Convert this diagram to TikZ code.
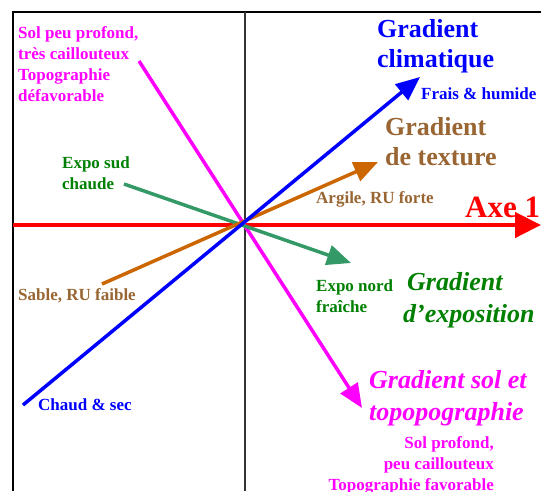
\documentclass[tikz,border=0pt]{standalone}
\usepackage{fontspec}
\setmainfont{Liberation Serif}
\usetikzlibrary{arrows.meta}
\definecolor{brun}{HTML}{996633}
\definecolor{orange}{HTML}{CC6600}
\definecolor{vertclair}{HTML}{339966}
\definecolor{vert}{HTML}{008000}
\definecolor{rose}{HTML}{FF00FF}
\definecolor{bleu}{HTML}{0000FF}
\definecolor{rouge}{HTML}{FF0000}
\tikzset{
  petit/.style={font=\bfseries\fontsize{17}{20.7}\selectfont, inner sep=0pt, align=left, anchor=base west},
  grand/.style={font=\bfseries\fontsize{26}{30}\selectfont, inner sep=0pt, align=left, anchor=base west},
  grandit/.style={font=\bfseries\itshape\fontsize{26}{32}\selectfont, inner sep=0pt, align=left, anchor=base west},
  fleche/.style={line width=3.5pt, -{Triangle[length=24pt,width=20pt]}},
}
\begin{document}
\begin{tikzpicture}[x=1pt,y=-1pt]
	\useasboundingbox (0,0) rectangle (541,491);
	% cadre et axe 2
	\draw[line width=1.3pt] (13,491) -- (13,12) -- (541,12);
	\draw[line width=1.3pt, black!80] (245,12) -- (245,491);
	% extremites des gradients
	\coordinate (chaud) at (23,405);
	\coordinate (frais) at (420,77);
	\coordinate (sable) at (102,284);
	\coordinate (argile) at (378,162);
	\coordinate (sud) at (124,184);
	\coordinate (nord) at (351,263);
	\coordinate (solpeu) at (139,61);
	\coordinate (solprof) at (362,408);
	\coordinate (axeg) at (13,225);
	\coordinate (axed) at (541,225);
	\draw[rouge, line width=4.5pt, -{Triangle[length=26pt,width=25pt]}] (axeg) -- (axed);
	\draw[fleche, rose] (solpeu) -- (solprof);
	\draw[fleche, vertclair] (sud) -- (nord);
	\draw[fleche, orange] (sable) -- (argile);
	\draw[fleche, bleu] (chaud) -- (frais);
	% textes (ancre sur la ligne de base de la derniere ligne)
	\node[petit, rose] (tsolpeu) at (18,101) {Sol peu profond,\\très caillouteux\\Topographie\\défavorable};
	\node[grand, bleu] (tclim) at (377,67) {Gradient\\climatique};
	\node[petit, bleu] (tfrais) at (421,99) {Frais \& humide};
	\node[grand, brun] (ttext) at (385,165) {Gradient\\de texture};
	\node[petit, brun] (targile) at (316,203) {Argile, RU forte};
	\node[rouge, font=\bfseries\fontsize{31}{31}\selectfont, inner sep=0pt, anchor=base west] (taxe) at (465,217) {Axe 1};
	\node[petit, vert] (tsud) at (62,189) {Expo sud\\chaude};
	\node[petit, brun] (tsable) at (18,300) {Sable, RU faible};
	\node[petit, vert] (tnord) at (316,312) {Expo nord\\fraîche};
	\node[grandit, vert] (texpo) at (403,322) {\hspace*{4pt}Gradient\\d’exposition};
	\node[petit, bleu] (tchaud) at (38,410) {Chaud \& sec};
	\node[grandit, rose] (tsol) at (369,420) {Gradient sol et\\topopographie};
	\node[petit, rose, align=right, anchor=base east] (tsolprof) at (494,490) {Sol profond,\\peu caillouteux\\Topographie favorable};
\end{tikzpicture}
\end{document}
